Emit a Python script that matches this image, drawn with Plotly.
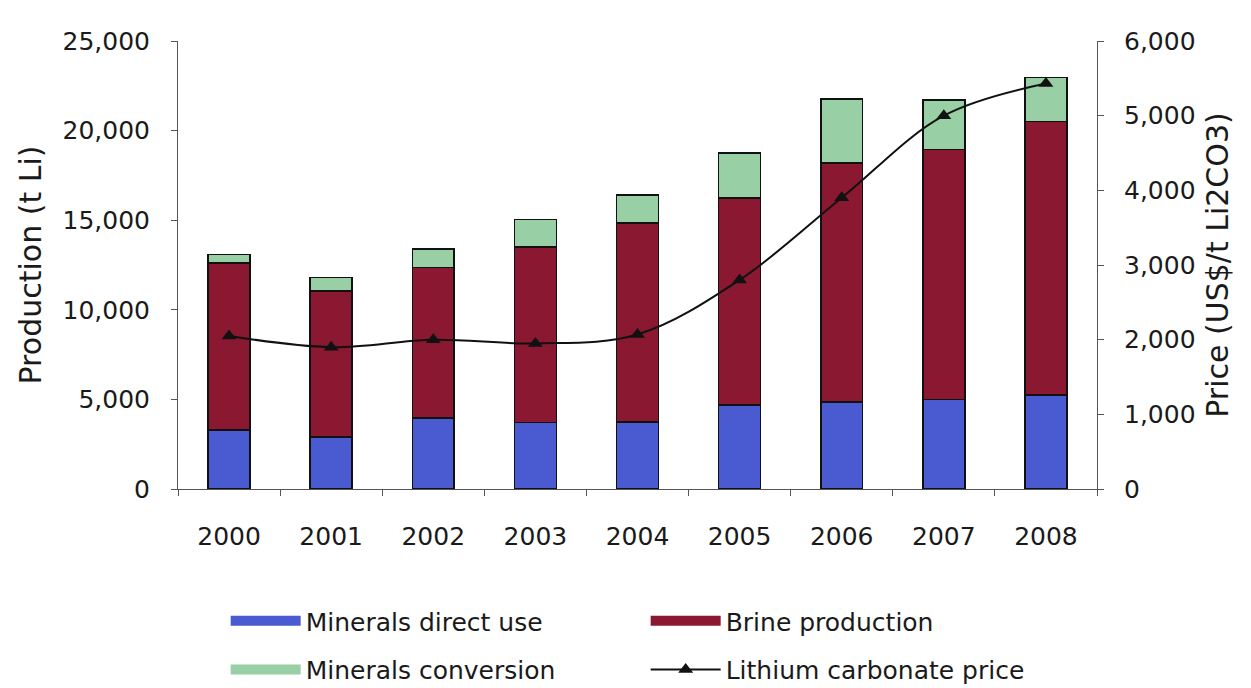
import plotly.graph_objects as go

years = ["2000", "2001", "2002", "2003", "2004", "2005", "2006", "2007", "2008"]
minerals_direct = [3300, 2900, 3950, 3700, 3750, 4700, 4850, 5000, 5250]
brine = [9300, 8150, 8400, 9800, 11100, 11550, 13350, 13950, 15250]
minerals_conv = [500, 750, 1050, 1550, 1550, 2500, 3550, 2750, 2450]
price = [2050, 1900, 2000, 1950, 2070, 2800, 3900, 5000, 5430]

names = ["Minerals direct use", "Brine production", "Minerals conversion", "Lithium carbonate price"]
colors = ["#4a5ad0", "#8a1830", "#98cfa4"]

FONT = "DejaVu Sans, Verdana, sans-serif"
FS = 25
TXT = "#1a1a1a"
AX = "#555555"
EDGE = "#111111"

fig = go.Figure()
for vals, name, col in zip([minerals_direct, brine, minerals_conv], names[:3], colors):
    fig.add_trace(go.Bar(x=years, y=vals, name=name, showlegend=False,
                         marker=dict(color=col, line=dict(color=EDGE, width=1.5))))
fig.add_trace(go.Scatter(x=years, y=price, name=names[3], yaxis="y2", showlegend=False,
                         mode="lines+markers", line=dict(color=EDGE, width=2, shape="spline"),
                         marker=dict(symbol="triangle-up", size=13, color=EDGE)))

# legend entries (two rows, two columns)
legend_of = ["legend", "legend", "legend2", "legend2"]
for i, name in enumerate(names):
    if i < 3:
        fig.add_trace(go.Scatter(x=[None], y=[None], name=name, mode="lines",
                                 line=dict(color=colors[i], width=17), legend=legend_of[i]))
    else:
        fig.add_trace(go.Scatter(x=[None], y=[None], name=name, mode="lines+markers", yaxis="y2",
                                 line=dict(color=EDGE, width=2),
                                 marker=dict(symbol="triangle-up", size=13, color=EDGE),
                                 legend=legend_of[i]))

leg_common = dict(orientation="h", xref="container", yref="container", xanchor="left",
                  yanchor="middle", entrywidth=335, entrywidthmode="pixels", itemwidth=70,
                  traceorder="normal",
                  font=dict(family=FONT, size=FS, color=TXT), bgcolor="rgba(0,0,0,0)")

fig.update_layout(
    width=1251, height=688,
    margin=dict(l=170, r=162, t=33, b=207, autoexpand=False),
    paper_bgcolor="white", plot_bgcolor="white",
    barmode="stack", bargap=0.59,
    font=dict(family=FONT, size=FS, color=TXT),
    showlegend=True,
    legend=dict(x=0.174, y=0.109, **leg_common),
    legend2=dict(x=0.174, y=0.038, **leg_common),
    xaxis=dict(type="category", range=[-0.5, 8.5], showline=True, linecolor=AX, linewidth=1,
               ticks="outside", ticklen=6, tickcolor=AX, tickson="boundaries",
               ticklabelstandoff=25, showgrid=False),
    yaxis=dict(range=[0, 25000], dtick=5000, tickformat=",", showline=True, linecolor=AX,
               linewidth=1, ticks="outside", ticklen=6, tickcolor=AX, showgrid=False,
               zeroline=False, ticklabelstandoff=16,
               title=dict(text="Production (t Li)", standoff=12)),
    yaxis2=dict(range=[0, 6000], dtick=1000, tickformat=",", overlaying="y", side="right",
                showline=True, linecolor=AX, linewidth=1, ticks="outside", ticklen=6,
                tickcolor=AX, showgrid=False, zeroline=False, ticklabelstandoff=15,
                title=dict(text="Price (US$/t Li2CO3)", standoff=12)),
)

fig.write_html("out.html")
